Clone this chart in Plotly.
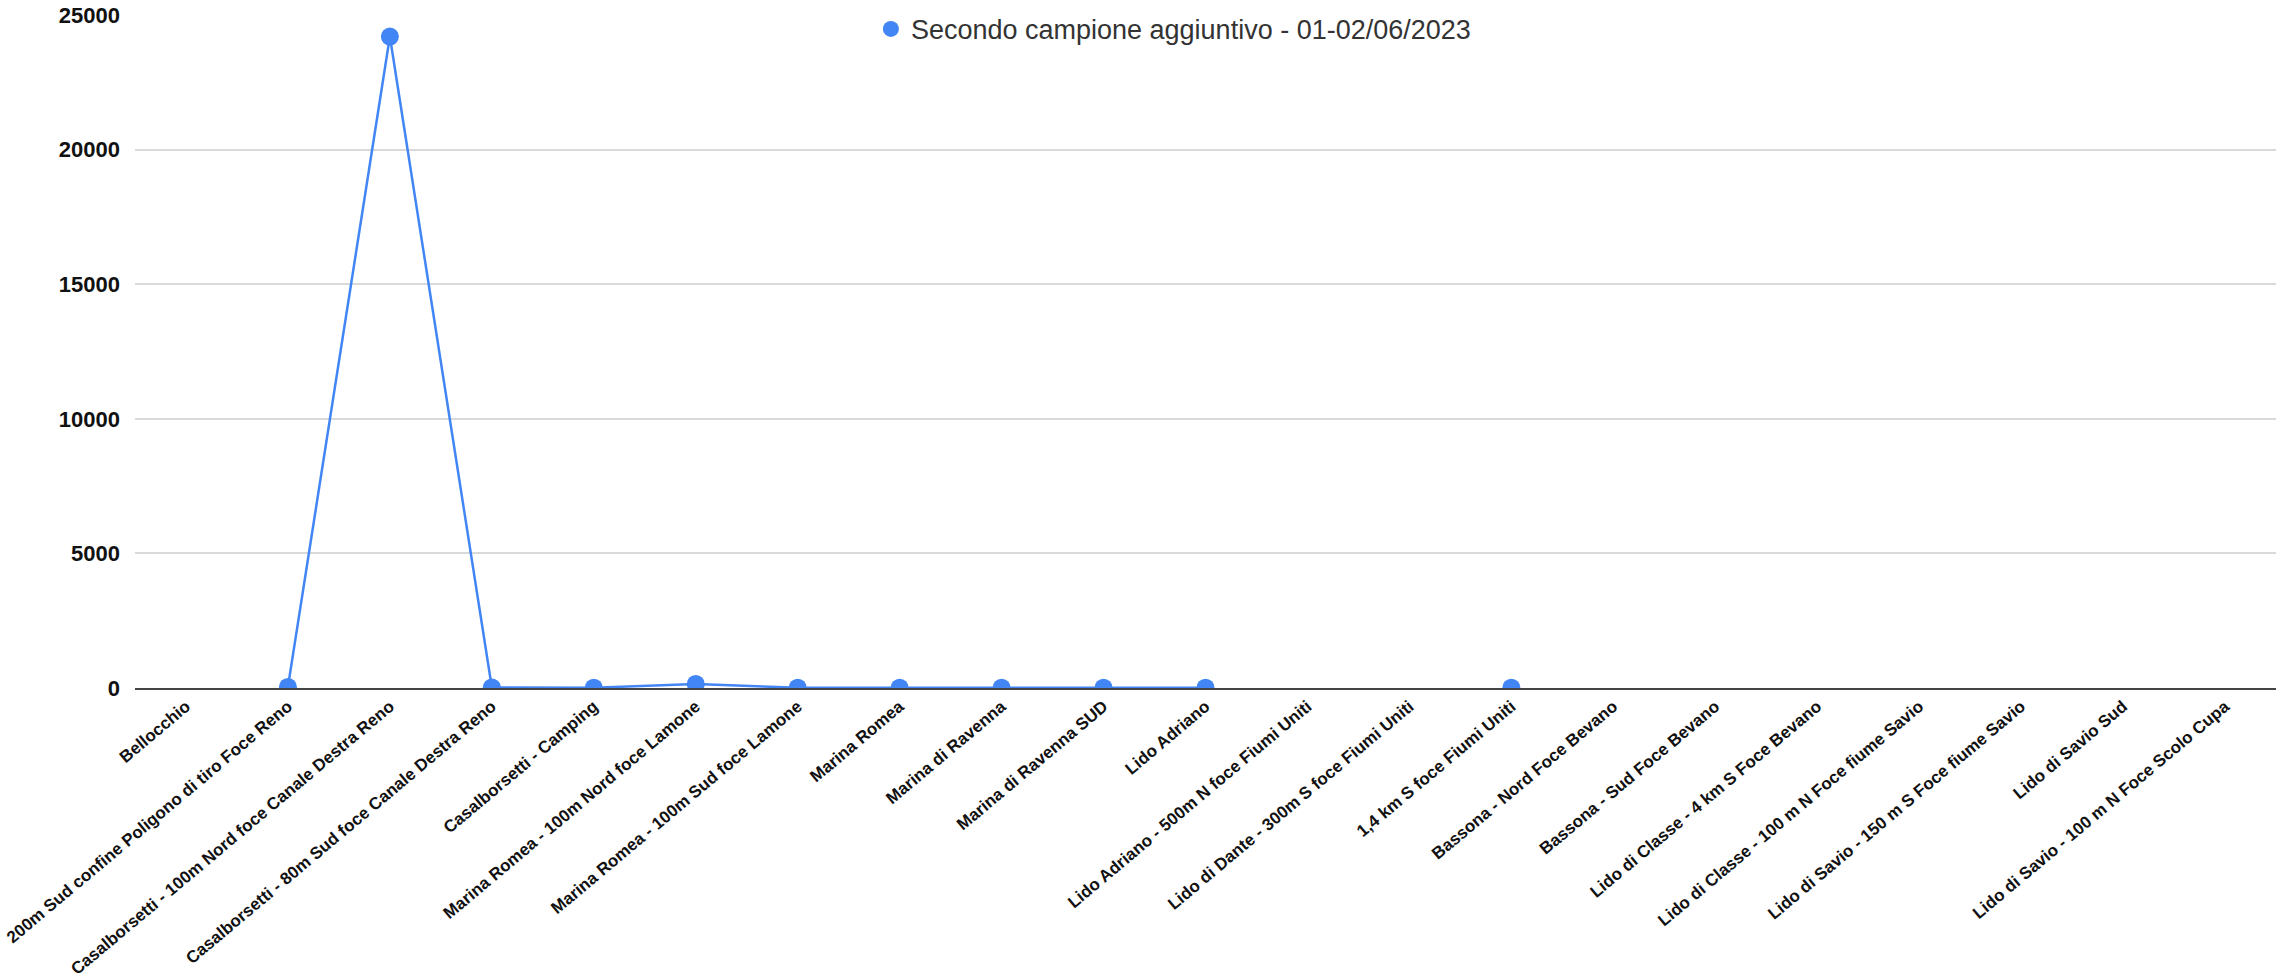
import plotly.graph_objects as go

categories = [
    "Bellocchio",
    "200m Sud confine Poligono di tiro Foce Reno",
    "Casalborsetti - 100m Nord foce Canale Destra Reno",
    "Casalborsetti - 80m Sud foce Canale Destra Reno",
    "Casalborsetti - Camping",
    "Marina Romea - 100m Nord foce Lamone",
    "Marina Romea - 100m Sud foce Lamone",
    "Marina Romea",
    "Marina di Ravenna",
    "Marina di Ravenna SUD",
    "Lido Adriano",
    "Lido Adriano - 500m N foce Fiumi Uniti",
    "Lido di Dante - 300m S foce Fiumi Uniti",
    "1,4 km S foce Fiumi Uniti",
    "Bassona - Nord Foce Bevano",
    "Bassona - Sud Foce Bevano",
    "Lido di Classe - 4 km S Foce Bevano",
    "Lido di Classe - 100 m N Foce fiume Savio",
    "Lido di Savio - 150 m S Foce fiume Savio",
    "Lido di Savio Sud",
    "Lido di Savio - 100 m N Foce Scolo Cupa",
]
values = [None, 40, 24200, 20, 10, 150, 10, 10, 10, 10, 10,
          None, None, 10, None, None, None, None, None, None, None]
series_name = "Secondo campione aggiuntivo - 01-02/06/2023"
y_ticks = [0, 5000, 10000, 15000, 20000, 25000]

blue = "#4285F4"

fig = go.Figure()
fig.add_trace(go.Scatter(
    x=categories, y=values, mode="lines+markers",
    line=dict(color=blue, width=2.5),
    marker=dict(color=blue, size=18),
    connectgaps=False, showlegend=False, name=series_name,
))
fig.add_trace(go.Scatter(
    x=[None], y=[None], mode="markers",
    marker=dict(color=blue, size=18), name=series_name, showlegend=True,
))

fig.update_layout(
    width=2295, height=980,
    margin=dict(l=135, r=19, t=15, b=292, autoexpand=False),
    plot_bgcolor="white", paper_bgcolor="white",
    font=dict(family="Arial, Liberation Sans, sans-serif", color="#000"),
    legend=dict(x=0.485, xanchor="center", y=1.015, yanchor="top",
                orientation="h", bgcolor="rgba(0,0,0,0)",
                font=dict(size=27, color="#333")),
    xaxis=dict(
        type="category", categoryorder="array", categoryarray=categories,
        tickangle=-40, tickfont=dict(size=17, color="#111", weight="bold"),
        showgrid=False, showline=True, linecolor="#444", linewidth=2,
        ticks="", range=[-0.5, len(categories) - 0.5], automargin=False,
    ),
    yaxis=dict(
        range=[0, 25000], tickvals=y_ticks,
        ticktext=[str(v) for v in y_ticks],
        tickfont=dict(size=22, color="#111", weight="bold"),
        showgrid=True, gridcolor="#d9d9d9", gridwidth=2,
        zeroline=False, ticks="", ticklabelstandoff=14, automargin=False,
    ),
)

fig.write_html("out.html")
